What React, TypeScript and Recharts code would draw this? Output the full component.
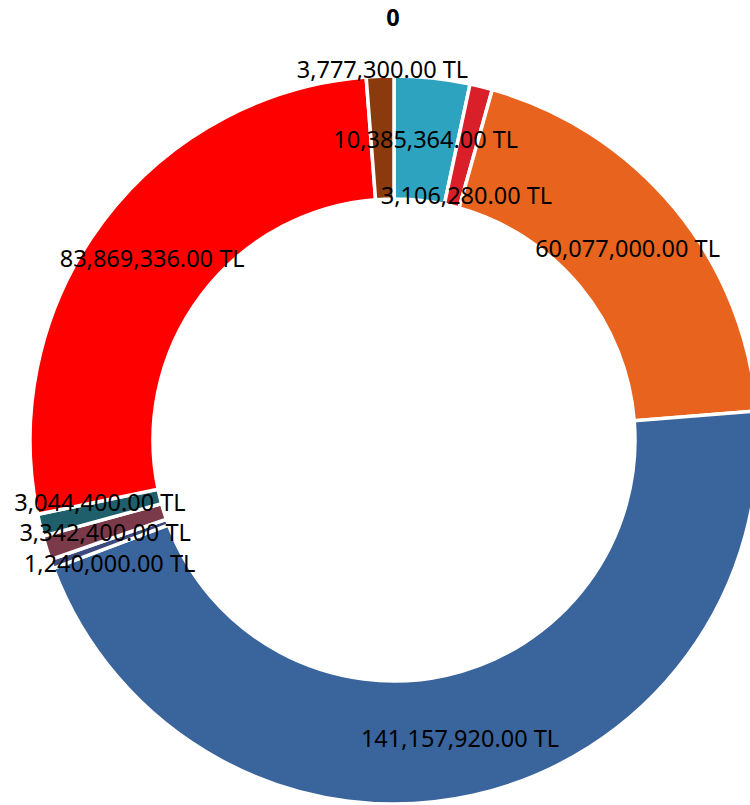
import { PieChart, Pie, Cell } from "recharts"

const SLICE_VALUES = [
  10385364, 3106280, 60077000, 141157920, 1240000, 3342400, 3044400, 83869336, 3777300,
]

const SLICE_COLORS = [
  "#2EA3C0", "#D9202A", "#E8641E", "#3A649C", "#3E4A7E", "#7B3A4A", "#1E5F6B", "#FF0000", "#8B3A0E",
]

// vertical nudges so crowded labels don't overlap (like the spreadsheet did)
const LABEL_NUDGE = [0, 49, 0, 3, 20, 2, -9, 0, -69]

const TITLE = "0"

const chartData = SLICE_VALUES.map((value, i) => ({ name: `s${i}`, value }))

const FONT = "'Noto Sans', sans-serif"
const RAD = Math.PI / 180

function formatTL(v: number) {
  return (
    v.toLocaleString("en-US", { minimumFractionDigits: 2, maximumFractionDigits: 2 }) + " TL"
  )
}

function renderLabel(props: any) {
  const { cx, cy, midAngle, innerRadius, outerRadius, index, value } = props
  const r = (innerRadius + outerRadius) / 2
  const x = cx + r * Math.cos(-midAngle * RAD)
  const y = cy + r * Math.sin(-midAngle * RAD) + (LABEL_NUDGE[index] ?? 0)
  return (
    <text
      key={`lbl-${index}`}
      x={x}
      y={y}
      fill="#000"
      fontSize={23.5}
      fontFamily={FONT}
      textAnchor="middle"
      dominantBaseline="central"
    >
      {formatTL(value)}
    </text>
  )
}

export default function App() {
  return (
    <div
      style={{
        position: "absolute",
        left: 0,
        top: 0,
        width: 750,
        height: 805,
        overflow: "hidden",
        background: "#fff",
      }}
    >
      <div
        style={{
          position: "absolute",
          left: 0,
          top: 1,
          width: 786,
          textAlign: "center",
          fontFamily: FONT,
          fontWeight: 700,
          fontSize: 23.5,
          lineHeight: "32px",
          color: "#000",
        }}
      >
        {TITLE}
      </div>
      <PieChart
        width={750}
        height={805}
        margin={{ top: 0, right: 0, bottom: 0, left: 0 }}
        style={{ position: "absolute", left: 0, top: 0 }}
      >
        <Pie
          data={chartData}
          dataKey="value"
          cx={394}
          cy={440}
          innerRadius={241}
          outerRadius={364}
          startAngle={90}
          endAngle={-270}
          stroke="#fff"
          strokeWidth={3.5}
          label={renderLabel}
          labelLine={false}
          isAnimationActive={false}
        >
          {chartData.map((d, i) => (
            <Cell key={d.name} fill={SLICE_COLORS[i]} />
          ))}
        </Pie>
      </PieChart>
    </div>
  )
}
